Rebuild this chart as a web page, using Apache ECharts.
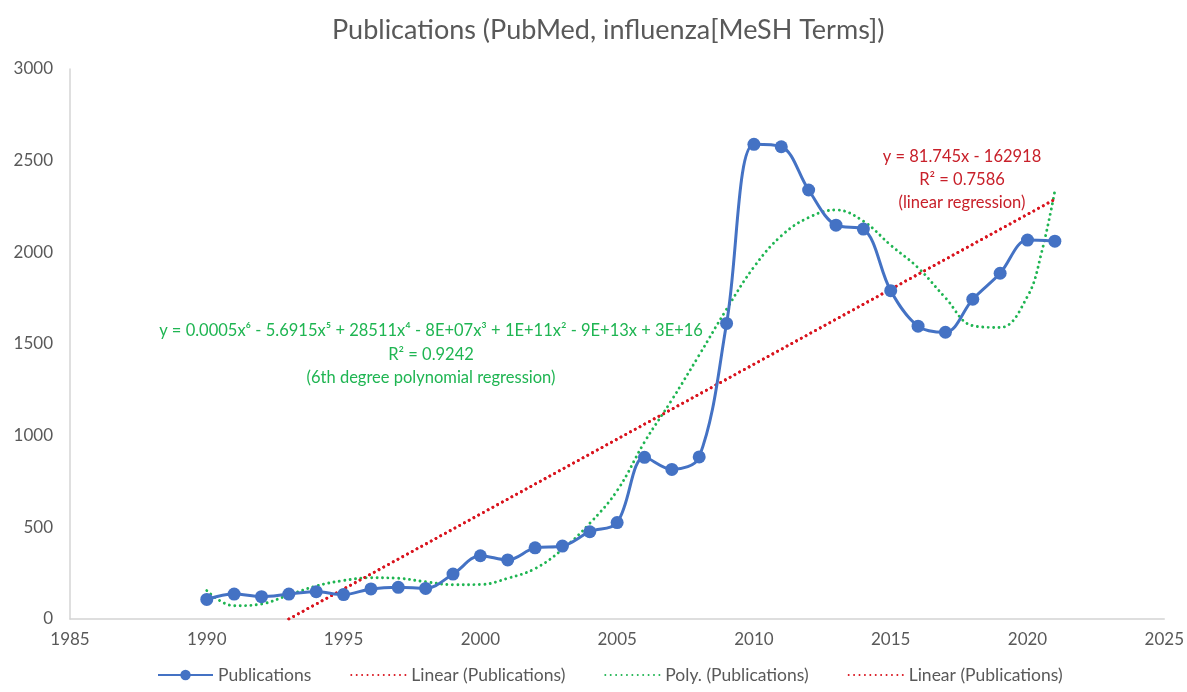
<!DOCTYPE html>
<html>
<head>
<meta charset="utf-8">
<script src="https://cdn.jsdelivr.net/npm/echarts@6/dist/echarts.min.js"></script>
<style>
  html, body { margin: 0; padding: 0; background: #fff; }
  #chart { width: 1187px; height: 692px; }
</style>
</head>
<body>
<div id="chart"></div>
<script>
// publications per year
const years = [1990, 1991, 1992, 1993, 1994, 1995, 1996, 1997, 1998, 1999, 2000,
               2001, 2002, 2003, 2004, 2005, 2006, 2007, 2008, 2009, 2010,
               2011, 2012, 2013, 2014, 2015, 2016, 2017, 2018, 2019, 2020, 2021];
const publications = [107, 136, 122, 136, 149, 133, 164, 173, 167, 245, 345,
                      322, 388, 398, 476, 526, 882, 816, 884, 1612, 2589,
                      2576, 2340, 2148, 2127, 1791, 1597, 1564, 1744, 1886, 2067, 2061];

// 6th degree polynomial trend
const polyYears = [1990, 1991, 1992, 1993, 1994, 1995, 1996, 1997, 1998, 1999, 2000,
                   2001, 2002, 2003, 2004, 2005, 2006, 2007, 2008, 2009, 2010,
                   2011, 2012, 2013, 2014, 2015, 2016, 2017, 2018, 2019, 2020, 2020.5, 2021];
const polyValues = [155, 72, 82, 131, 180, 210, 225, 222, 203, 187, 188,
                    222, 275, 380, 522, 700, 965, 1195, 1440, 1690, 1920,
                    2090, 2190, 2231, 2170, 2039, 1916, 1752, 1600, 1590, 1760, 1990, 2335];

// linear trend, visible part (clipped at 0)
const linYears = [1993, 2021];
const linValues = [0, 2289];

const xTicks = { min: 1985, max: 2025, step: 5 };
const yTicks = { min: 0, max: 3000, step: 500 };

const polyLabel = 'y = 0.0005x\u2076 - 5.6915x\u2075 + 28511x\u2074 - 8E+07x\u00B3 + 1E+11x\u00B2 - 9E+13x + 3E+16\n' +
                  'R\u00B2 = 0.9242\n(6th degree polynomial regression)';
const linLabel = 'y = 81.745x - 162918\nR\u00B2 = 0.7586\n(linear regression)';

const toPairs = (xs, ys) => xs.map((x, i) => [x, ys[i]]);

const FONT = 'Lato, "Open Sans", sans-serif';
const BLUE = '#4472c4';
const RED = '#d9141e';
const GREEN = '#1fb552';
const DOTS = [0.01, 5.4];

const chart = echarts.init(document.getElementById('chart'));

function trend(name, data, color, smooth) {
    return {
        name: name,
        type: 'line',
        data: data,
        smooth: smooth || false,
        showSymbol: false,
        symbol: 'none',
        lineStyle: { color: color, width: 2.9, type: DOTS, cap: 'round' },
        itemStyle: { color: color },
        z: 2
    };
}

chart.setOption({
    animation: false,
    textStyle: { fontFamily: FONT },
    title: {
        text: 'Publications (PubMed, influenza[MeSH Terms])',
        left: 327,
        top: 12,
        textStyle: { fontFamily: FONT, fontSize: 27, fontWeight: 'normal', color: '#595959' }
    },
    grid: { left: 70, right: 21, top: 69, bottom: 73 },
    legend: {
        bottom: 3,
        left: 152,
        itemWidth: 55,
        itemHeight: 13,
        itemGap: 39,
        textStyle: { fontFamily: FONT, fontSize: 17.5, color: '#595959' },
        data: [
            'Publications',
            { name: 'Linear (Publications)', itemStyle: { opacity: 0 } },
            { name: 'Poly. (Publications)', itemStyle: { opacity: 0 } },
            { name: 'Linear (Publications) ', itemStyle: { opacity: 0 } }
        ]
    },
    xAxis: {
        type: 'value',
        min: xTicks.min,
        max: xTicks.max,
        interval: xTicks.step,
        axisLine: { lineStyle: { color: '#d4d4d4', width: 1.5 } },
        axisTick: { show: false },
        splitLine: { show: false },
        axisLabel: { color: '#595959', fontSize: 17, fontFamily: FONT, margin: 12, formatter: v => String(v) }
    },
    yAxis: {
        type: 'value',
        min: yTicks.min,
        max: yTicks.max,
        interval: yTicks.step,
        axisLine: { show: true, lineStyle: { color: '#d4d4d4', width: 1.5 } },
        axisTick: { show: false },
        splitLine: { show: false },
        axisLabel: { color: '#595959', fontSize: 17, fontFamily: FONT, margin: 17, formatter: v => String(v) }
    },
    series: [
        trend('Linear (Publications)', toPairs(linYears, linValues), RED),
        trend('Poly. (Publications)', toPairs(polyYears, polyValues), GREEN, 0.4),
        trend('Linear (Publications) ', toPairs(linYears, linValues), RED),
        {
            name: 'Publications',
            type: 'line',
            data: toPairs(years, publications),
            smooth: 0.35,
            symbol: 'circle',
            symbolSize: 13,
            lineStyle: { color: BLUE, width: 3 },
            itemStyle: { color: BLUE },
            z: 3
        }
    ],
    graphic: [
        {
            type: 'text',
            x: 431,
            y: 319,
            style: {
                text: polyLabel,
                fill: GREEN, font: '16.5px ' + FONT,
                align: 'center', verticalAlign: 'top', lineHeight: 23.5
            }
        },
        {
            type: 'text',
            x: 962,
            y: 145,
            style: {
                text: linLabel,
                fill: '#c8202a', font: '16.5px ' + FONT,
                align: 'center', verticalAlign: 'top', lineHeight: 23
            }
        }
    ]
});

window.addEventListener('resize', () => chart.resize());
</script>
</body>
</html>
